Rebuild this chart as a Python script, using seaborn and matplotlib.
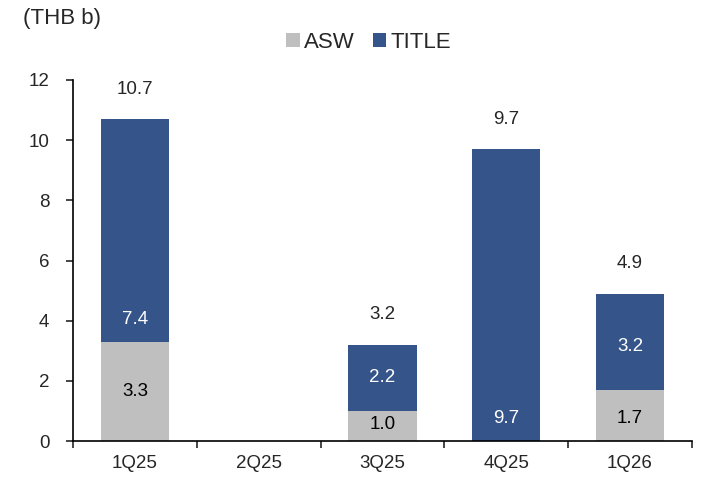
import numpy as np
import pandas as pd
import matplotlib.pyplot as plt
import seaborn as sns

# data
quarters = ["1Q25", "2Q25", "3Q25", "4Q25", "1Q26"]
asw = [3.3, 0.0, 1.0, 0.0, 1.7]
title = [7.4, 0.0, 2.2, 9.7, 3.2]
# where the inside labels sit (y, in data units); None = no label
asw_label_y = [1.65, None, 0.55, None, 0.75]
title_label_y = [4.05, None, 2.1, 0.75, 3.15]

df = pd.DataFrame({"quarter": quarters, "ASW": asw, "TITLE": title})
df["total"] = df["ASW"] + df["TITLE"]

sns.set_style("white")
plt.rcParams["font.family"] = ["Liberation Sans", "DejaVu Sans"]

gray = "#BFBFBF"
blue = "#34548A"

fig = plt.figure(figsize=(7.23, 5), dpi=100)
ax = fig.add_axes([0.101, 0.118, 0.856, 0.722])

# total bar in blue, ASW drawn over its base in gray -> stacked look
sns.barplot(data=df, x="quarter", y="total", color=blue, width=0.55,
            saturation=1, ax=ax, label="TITLE", linewidth=0)
sns.barplot(data=df, x="quarter", y="ASW", color=gray, width=0.55,
            saturation=1, ax=ax, label="ASW", linewidth=0)
handles, labels = ax.get_legend_handles_labels()
if ax.get_legend() is not None:
    ax.get_legend().remove()

# labels
for i, q in enumerate(quarters):
    tot = df["total"][i]
    if tot > 0:
        ax.text(i, tot + 1.0, f"{tot:.1f}", ha="center", va="center", fontsize=13.5)
    if asw_label_y[i] is not None:
        ax.text(i, asw_label_y[i], f"{asw[i]:.1f}", ha="center", va="center",
                fontsize=13.5, color="black")
    if title_label_y[i] is not None:
        ax.text(i, title_label_y[i], f"{title[i]:.1f}", ha="center", va="center",
                fontsize=13.5, color="white")

ax.set_ylim(0, 12)
ax.set_xlim(-0.5, 4.5)
ax.set_yticks(np.arange(0, 13, 2))
ax.set_xlabel("")
ax.set_ylabel("")
ax.tick_params(axis="y", which="major", direction="out", length=5, width=1.2,
               left=True, labelsize=13.5, pad=12)
ax.tick_params(axis="x", which="major", length=0, labelsize=13.5, pad=10)
ax.set_xticks(np.arange(-0.5, 5, 1), minor=True)
ax.tick_params(axis="x", which="minor", direction="out", length=5, width=1.2,
               bottom=True)
for s in ["top", "right"]:
    ax.spines[s].set_visible(False)
for s in ["left", "bottom"]:
    ax.spines[s].set_color("black")
    ax.spines[s].set_linewidth(1.2)

# legend (ASW first)
order = [labels.index("ASW"), labels.index("TITLE")]
fig.legend([handles[k] for k in order], [labels[k] for k in order],
           loc="center", bbox_to_anchor=(0.51, 0.915), ncol=2, frameon=False,
           fontsize=16, handlelength=0.6, handleheight=0.6, handletextpad=0.2,
           columnspacing=0.8)

fig.text(0.032, 0.963, "(THB b)", fontsize=16, va="center", ha="left")

plt.savefig("out.png", dpi=100)
